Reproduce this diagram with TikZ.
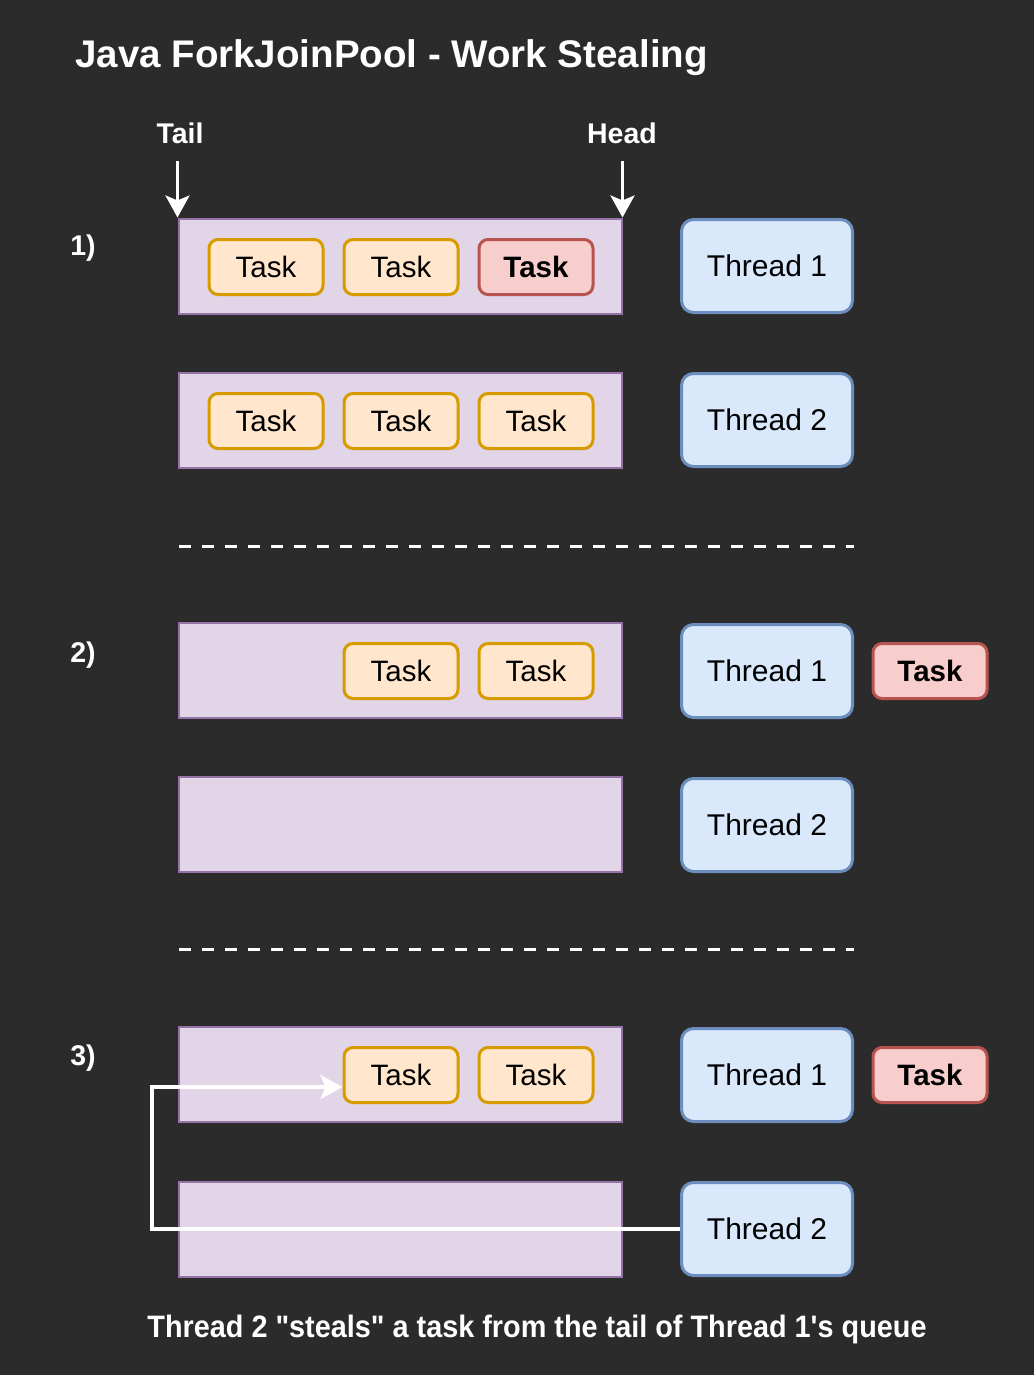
\documentclass[tikz,border=0pt]{standalone}
\usepackage{fontspec}
\setmainfont{Liberation Sans}
\newfontfamily\narrowsans[FakeStretch=0.93]{Liberation Sans}
\usetikzlibrary{arrows.meta,positioning}
\definecolor{bgdark}{HTML}{2B2B2B}
\definecolor{queuefill}{HTML}{E1D5E7}
\definecolor{queueline}{HTML}{9673A6}
\definecolor{taskfill}{HTML}{FFE6CC}
\definecolor{taskline}{HTML}{D79B00}
\definecolor{hotfill}{HTML}{F8CECC}
\definecolor{hotline}{HTML}{B85450}
\definecolor{threadfill}{HTML}{DAE8FC}
\definecolor{threadline}{HTML}{6C8EBF}
\tikzset{
  queuebox/.style={draw=queueline, fill=queuefill, line width=2pt,
    minimum width=443pt, minimum height=95pt, inner sep=0pt},
  taskbox/.style={draw=taskline, fill=taskfill, line width=3pt, rounded corners=9pt,
    minimum width=114pt, minimum height=55pt, inner sep=0pt,
    font=\fontsize{29.5}{34}\selectfont},
  hottask/.style={taskbox, draw=hotline, fill=hotfill,
    font=\fontsize{29.5}{34}\selectfont\bfseries},
  threadbox/.style={draw=threadline, fill=threadfill, line width=3pt, rounded corners=12pt,
    minimum width=171pt, minimum height=93pt, inner sep=0pt,
    font=\fontsize{30}{34}\selectfont},
  whitetxt/.style={text=white, inner sep=0pt, font=\fontsize{28.5}{32}\selectfont\bfseries},
  pointer/.style={draw=white, line width=3.2pt,
    -{Stealth[length=22pt, width=24pt, inset=5pt]}},
  splitline/.style={draw=white, line width=3pt, dash pattern=on 12pt off 11pt}
}
\begin{document}
\begin{tikzpicture}[x=1pt, y=-1pt]
  \useasboundingbox (0,0) rectangle (1034,1375);
  \fill[bgdark] (0,0) rectangle (1034,1375);
  % Title
  \node[whitetxt, anchor=base west, font=\fontsize{38.5}{44}\selectfont\bfseries]
    (title) at (75,68) {Java ForkJoinPool - Work Stealing};
  % Queues
  \foreach \n/\y in {qa/266,qb/420,qc/670,qd/824,qe/1074,qf/1229}
    \node[queuebox] (\n) at (400,\y) {};
  % Threads
  \foreach \n/\y/\t in {ta/266/1,tb/420/2,tc/671/1,td/825/2,te/1075/1,tf/1229/2}
    \node[threadbox] (\n) at (767,\y) {Thread \t};
  % Tasks
  \node[taskbox] (ka1) at (266,267) {Task};
  \node[taskbox] (ka2) at (401,267) {Task};
  \node[hottask] (ka3) at (536,267) {Task};
  \node[taskbox] (kb1) at (266,421) {Task};
  \node[taskbox] (kb2) at (401,421) {Task};
  \node[taskbox] (kb3) at (536,421) {Task};
  \node[taskbox] (kc2) at (401,671) {Task};
  \node[taskbox] (kc3) at (536,671) {Task};
  \node[hottask] (kc4) at (930,671) {Task};
  \node[taskbox] (ke2) at (401,1075) {Task};
  \node[taskbox] (ke3) at (536,1075) {Task};
  \node[hottask] (ke4) at (930,1075) {Task};
  % Labels
  \node[whitetxt] (tailLbl) at (180,133) {Tail};
  \node[whitetxt] (headLbl) at (622,133) {Head};
  \node[whitetxt] (stepA) at (83,248) {1)};
  \node[whitetxt] (stepB) at (83,655) {2)};
  \node[whitetxt] (stepC) at (83,1058) {3)};
  \node[text=white, inner sep=0pt, anchor=base,
    font=\narrowsans\fontsize{31}{36}\selectfont\bfseries]
    (caption) at (537,1337) {Thread 2 "steals" a task from the tail of Thread 1's queue};
  % Pointers
  \coordinate (tailTop) at ([yshift=56pt]qa.north west);
  \coordinate (headTop) at ([yshift=56pt]qa.north east);
  \draw[pointer] (tailTop) -- (qa.north west);
  \draw[pointer] (headTop) -- (qa.north east);
  % Separators
  \draw[splitline] (179,546) -- (854,546);
  \draw[splitline] (179,949) -- (854,949);
  % Steal
  \coordinate (bend) at (152,1229);
  \draw[pointer] (tf.west) -- (bend) |- ([yshift=-12pt]ke2.west);
\end{tikzpicture}
\end{document}
